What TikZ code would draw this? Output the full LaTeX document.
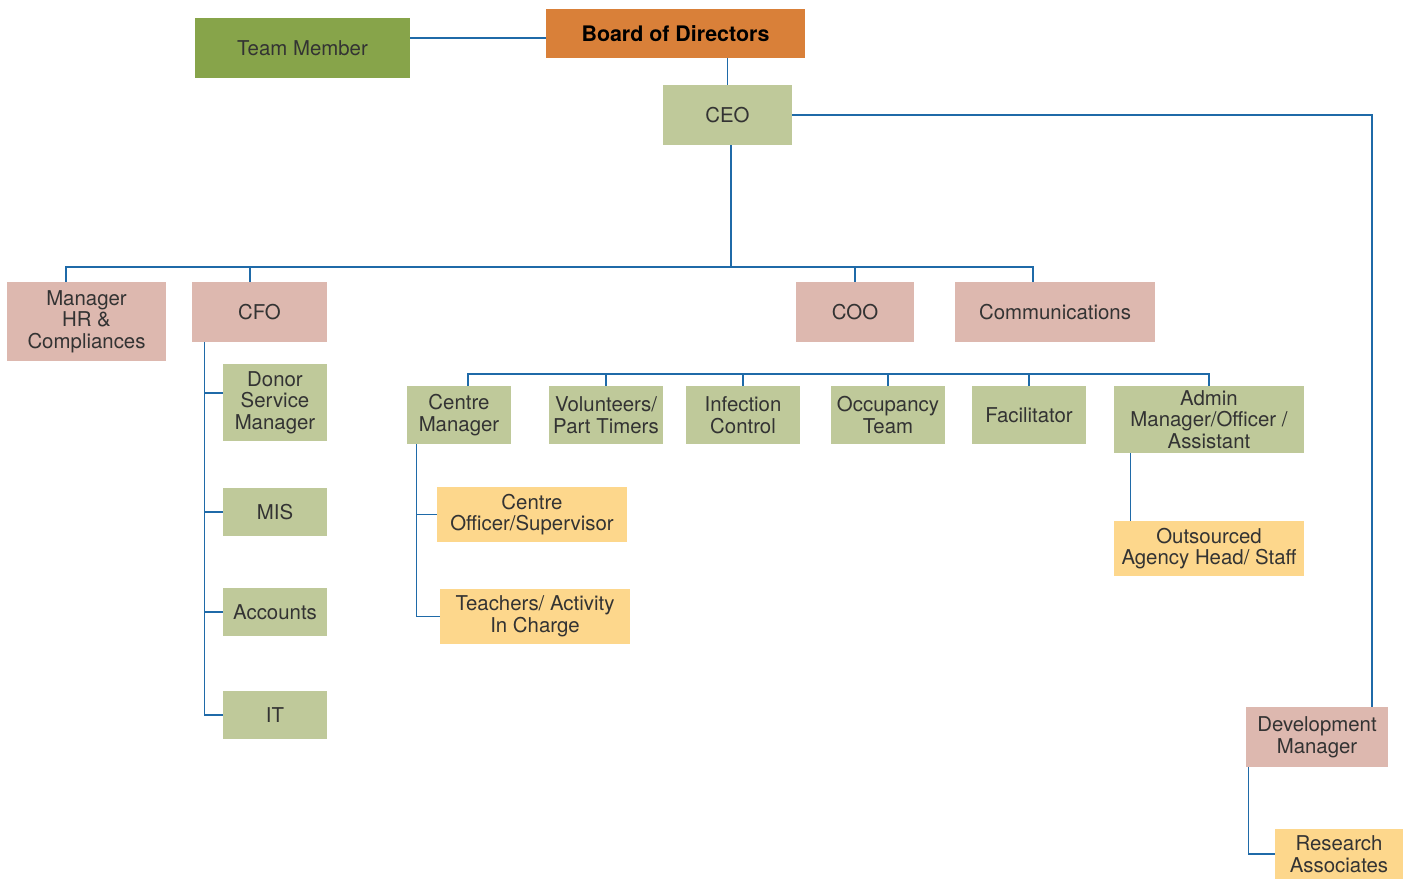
\documentclass[tikz,border=0pt]{standalone}
\usepackage{fontspec}
\setmainfont{TeX Gyre Heros}
\usepackage{xcolor}
\usetikzlibrary{positioning, calc}
\definecolor{teamgreen}{HTML}{87A44A}
\definecolor{boardorange}{HTML}{D98039}
\definecolor{sage}{HTML}{BFC99A}
\definecolor{rose}{HTML}{DDB8AF}
\definecolor{sand}{HTML}{FDD78C}
\definecolor{linkblue}{HTML}{1F6AA8}
\definecolor{ink}{HTML}{333333}
\tikzset{
  box/.style={inner sep=0pt, align=center, text=ink, font=\fontsize{10.2}{10.8}\selectfont},
  greenbox/.style={box, fill=sage},
  rosebox/.style={box, fill=rose},
  sandbox/.style={box, fill=sand},
  link/.style={draw=linkblue, line width=0.75pt}
}

\begin{document}
\begin{tikzpicture}[x=0.5pt, y=-0.5pt]
    \useasboundingbox (0,0) rectangle (1410,880);

    % Top level
    \node[box, fill=teamgreen, minimum width=107.5pt, minimum height=30pt] (team) at (302.5,48) {Team Member};
    \node[box, fill=boardorange, text=black, minimum width=129.5pt, minimum height=24.5pt, font=\fontsize{10.7}{11}\selectfont\bfseries] (board) at (675.5,33.5) {Board of Directors};
    \node[greenbox, minimum width=64.5pt, minimum height=30pt] (ceo) at (727.5,115) {CEO};

    % Direct reports
    \node[rosebox, minimum width=79.5pt, minimum height=39.5pt] (hr) at (86.5,321.5) {Manager\\HR \&\\Compliances};
    \node[rosebox, minimum width=67.5pt, minimum height=30pt] (cfo) at (259.5,312) {CFO};
    \node[rosebox, minimum width=59pt, minimum height=30pt] (coo) at (855,312) {COO};
    \node[rosebox, minimum width=100pt, minimum height=30pt] (comm) at (1055,312) {Communications};
    \node[rosebox, minimum width=71pt, minimum height=30pt] (dev) at (1317,737) {Development\\Manager};

    % Finance
    \node[greenbox, minimum width=52pt, minimum height=38.5pt] (donor) at (275,402.5) {Donor\\Service\\Manager};
    \node[greenbox, minimum width=52pt, minimum height=24pt] (mis) at (275,512) {MIS};
    \node[greenbox, minimum width=52pt, minimum height=24pt] (acc) at (275,612) {Accounts};
    \node[greenbox, minimum width=52pt, minimum height=24pt] (it) at (275,715) {IT};

    % Operations row
    \node[greenbox, minimum width=52pt, minimum height=29pt] (cman) at (459,415) {Centre\\Manager};
    \node[greenbox, minimum width=57pt, minimum height=29pt] (vol) at (606,415) {Volunteers/\\Part Timers};
    \node[greenbox, minimum width=57pt, minimum height=29pt] (inf) at (743,415) {Infection\\Control};
    \node[greenbox, minimum width=57pt, minimum height=29pt] (occ) at (888,415) {Occupancy\\Team};
    \node[greenbox, minimum width=57pt, minimum height=29pt] (fac) at (1029,415) {Facilitator};
    \node[greenbox, minimum width=95pt, minimum height=33.5pt] (admin) at (1209,419.5) {Admin\\Manager/Officer /\\Assistant};

    % Third level
    \node[sandbox, minimum width=95pt, minimum height=27.5pt] (cofficer) at (532,514.5) {Centre\\Officer/Supervisor};
    \node[sandbox, minimum width=95pt, minimum height=27.5pt] (teach) at (535,616.5) {Teachers/ Activity\\In Charge};
    \node[sandbox, minimum width=95pt, minimum height=27.5pt] (outs) at (1209,548.5) {Outsourced\\Agency Head/ Staff};
    \node[sandbox, minimum width=64pt, minimum height=25pt] (res) at (1339,854) {Research\\Associates};

    % Connectors
    \draw[link] ([yshift=-2.25pt]board.west) -- ([yshift=-2.25pt]board.west -| team.east);
    \draw[link] (board.south -| ceo.north) -- (ceo.north);
    \draw[link] (ceo.east) -| ([xshift=27.5pt]dev.north);

    \coordinate (busA) at (66,267);
    \coordinate (busB) at (1033,267);
    \draw[link] ([xshift=-10.25pt]hr.north) -- (busA) -- (busB) -- ([xshift=-11pt]comm.north);
    \draw[link] ([xshift=1.75pt]ceo.south) -- ([xshift=1.75pt]ceo.south |- busA);
    \draw[link] ([xshift=-4.75pt]cfo.north) -- ([xshift=-4.75pt]cfo.north |- busA);
    \draw[link] (coo.north) -- (coo.north |- busA);

    \coordinate (cfoTrunk) at ([xshift=6.5pt]cfo.south west);
    \draw[link] (cfoTrunk) |- (it.west);
    \draw[link] ([yshift=4.75pt]donor.west) -- ([yshift=4.75pt]donor.west -| cfoTrunk);
    \foreach \n in {mis,acc}
        \draw[link] (\n.west) -- (\n.west -| cfoTrunk);

    \coordinate (busC) at (468,374);
    \draw[link] ([xshift=4.5pt]cman.north) -- (busC) -- (busC -| admin.north) -- (admin.north);
    \foreach \n in {vol,inf,occ,fac}
        \draw[link] (\n.north) -- (\n.north |- busC);

    \coordinate (cmTrunk) at ([xshift=5pt]cman.south west);
    \draw[link] (cmTrunk) |- (teach.west);
    \draw[link] (cofficer.west) -- (cofficer.west -| cmTrunk);

    \draw[link] ([xshift=8.5pt]admin.south west) -- ([xshift=8.5pt]outs.north west);
    \draw[link] ([xshift=1.5pt]dev.south west) |- (res.west);
\end{tikzpicture}
\end{document}
